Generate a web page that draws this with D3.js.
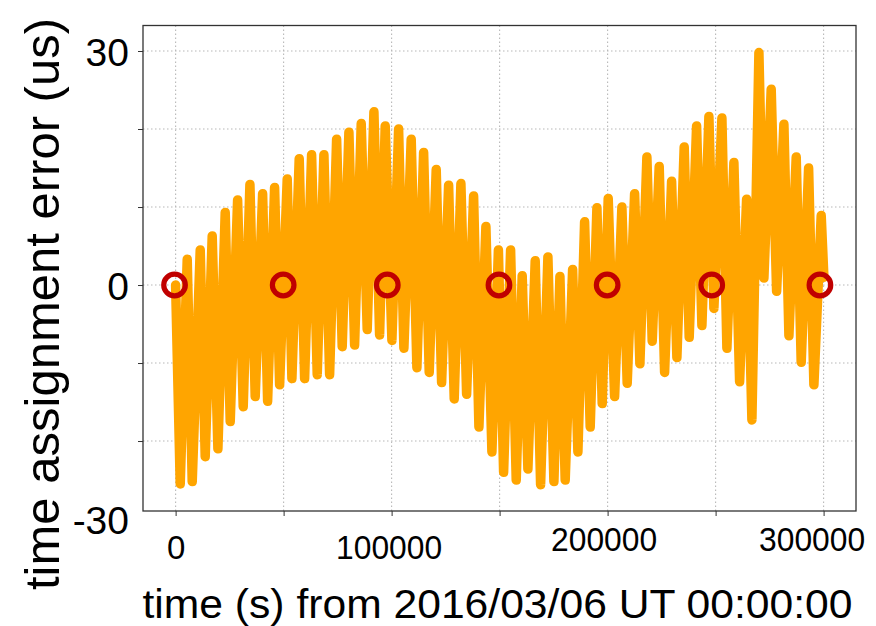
<!DOCTYPE html>
<html lang="en">
<head>
<meta charset="UTF-8">
<title>Time assignment error</title>
<script src="https://d3js.org/d3.v7.min.js"></script>
<style>
  body { margin: 0; background: #fff; }
  svg text { font-family: "Liberation Sans", Arial, sans-serif; fill: #000; }
</style>
</head>
<body>
<svg id="chart" width="876" height="626"></svg>
<script>
// seconds from 2016/03/06 00:00:00 UT, alternating troughs / peaks
const times = [0, 2130, 5370, 7690, 11390, 13700, 16940, 19580, 22960, 25280,
  28700, 31300, 34400, 36850, 40280, 42590, 45830, 48150, 51670, 53840,
  57220, 59720, 62960, 65560, 68660, 71300, 74540, 77130, 80230, 82870,
  85930, 88700, 91810, 94440, 97040, 100140, 103240, 105690, 109070, 111710,
  114820, 117410, 120650, 123150, 126390, 128980, 132080, 134720, 137960, 140420,
  143660, 146440, 149440, 151850, 155090, 157690, 160460, 163100, 166480, 168980,
  172360, 175140, 177920, 180370, 183800, 186250, 189350, 191940, 195050, 197500,
  200280, 203240, 206620, 209070, 212500, 214950, 218190, 220650, 223890, 226390,
  229630, 232080, 235460, 237780, 241200, 243660, 246900, 249210, 252920, 255230,
  258470, 261110, 264350, 266810, 270050, 272360, 275740, 278240, 281620, 283940,
  287320, 289630, 293060, 295510, 298890, 300140];

// time assignment error (us)
const errors = [0.0, -25.5, 3.3, -25.2, 4.5, -22.0, 6.3, -21.0, 9.3, -17.5,
  10.9, -15.6, 12.9, -14.3, 11.7, -14.9, 12.5, -12.8, 13.6, -12.0,
  16.2, -12.0, 16.7, -11.5, 16.7, -11.5, 18.7, -7.9, 19.6, -7.7,
  20.7, -5.7, 22.2, -6.4, 20.4, -7.1, 20.0, -8.1, 18.7, -10.6,
  17.0, -11.2, 14.8, -12.5, 12.8, -14.6, 13.0, -14.0, 11.4, -18.2,
  7.5, -21.4, 4.5, -24.0, 4.5, -25.0, 1.2, -23.6, 3.1, -25.6,
  3.6, -25.2, 1.1, -25.0, 2.0, -21.4, 8.1, -18.2, 9.9, -15.2,
  11.1, -14.3, 10.0, -12.6, 11.7, -10.1, 16.4, -7.2, 15.2, -11.2,
  13.3, -9.3, 17.7, -6.7, 20.4, -5.2, 21.6, -3.0, 21.4, -8.1,
  15.7, -12.4, 11.0, -17.3, 29.8, 0.9, 25.1, -0.8, 20.6, -6.5,
  16.4, -9.9, 15.0, -12.8, 8.9, 1.0];

// reference markers
const markerTimes = [-500, 49800, 98000, 149700, 199800, 248200, 298300];
const markerValues = [0, 0, 0, 0, 0, 0, 0];

const xTickValues = [0, 50000, 100000, 150000, 200000, 250000, 300000];
const xLabelValues = [0, 100000, 200000, 300000];
const yTickValues = [-20, -10, 0, 10, 20, 30];
const yLabelValues = [-30, 0, 30];

const xTitle = "time (s) from 2016/03/06 UT 00:00:00";
const yTitle = "time assignment error (us)";

const svg = d3.select("#chart");
const plot = { left: 143, right: 856, top: 25.5, bottom: 511 };

const x = d3.scaleLinear().domain([-15100, 315000]).range([plot.left, plot.right]);
const y = d3.scaleLinear().domain([-28.97, 33.27]).range([plot.bottom, plot.top]);

// grid
const grid = svg.append("g")
  .attr("stroke", "#b8b8b8")
  .attr("stroke-width", 1.1)
  .attr("stroke-dasharray", "1.5,2.5");
grid.selectAll(".vg").data(xTickValues).enter().append("line")
  .attr("x1", d => x(d)).attr("x2", d => x(d))
  .attr("y1", plot.top).attr("y2", plot.bottom);
grid.selectAll(".hg").data(yTickValues).enter().append("line")
  .attr("y1", d => y(d)).attr("y2", d => y(d))
  .attr("x1", plot.left).attr("x2", plot.right);

// the series: thick zigzag line
const data = times.map((t, i) => ({ t: t, v: errors[i] }));
const line = d3.line().x(d => x(d.t)).y(d => y(d.v));

svg.append("path")
  .datum(data)
  .attr("fill", "none")
  .attr("stroke", "#ffa500")
  .attr("stroke-width", 9.5)
  .attr("stroke-linejoin", "round")
  .attr("stroke-linecap", "round")
  .attr("d", line);

// red open circles
svg.selectAll(".marker")
  .data(markerTimes.map((t, i) => ({ t: t, v: markerValues[i] })))
  .enter().append("circle")
  .attr("cx", d => x(d.t))
  .attr("cy", d => y(d.v))
  .attr("r", 10.8)
  .attr("fill", "none")
  .attr("stroke", "#c00000")
  .attr("stroke-width", 5.2);

// frame
svg.append("rect")
  .attr("x", plot.left).attr("y", plot.top)
  .attr("width", plot.right - plot.left)
  .attr("height", plot.bottom - plot.top)
  .attr("fill", "none")
  .attr("stroke", "#333")
  .attr("stroke-width", 1.3);

// axis ticks
svg.append("g")
  .attr("transform", `translate(0,${plot.bottom})`)
  .call(d3.axisBottom(x).tickValues(xTickValues).tickSize(5).tickFormat(""))
  .call(g => g.select(".domain").remove())
  .call(g => g.selectAll("line").attr("stroke", "#333"));

svg.append("g")
  .attr("transform", `translate(${plot.left},0)`)
  .call(d3.axisLeft(y).tickValues(yTickValues).tickSize(5).tickFormat(""))
  .call(g => g.select(".domain").remove())
  .call(g => g.selectAll("line").attr("stroke", "#333"));

// tick labels
const xLabelShift = { 0: 8, 100000: 8, 200000: 0, 300000: 0 };
const xLabelDx = { 0: 0, 100000: -3, 200000: -4, 300000: -12 };
svg.append("g")
  .attr("transform", `translate(0,${plot.bottom})`)
  .call(d3.axisBottom(x).tickValues(xLabelValues).tickSize(0).tickPadding(0).tickFormat(d => String(d)))
  .call(g => g.select(".domain").remove())
  .call(g => g.selectAll("text")
    .attr("font-size", 33)
    .attr("y", d => 40 + xLabelShift[d])
    .attr("dy", 0)
    .attr("dx", d => xLabelDx[d])
    .attr("textLength", d => String(d).length > 1 ? 106 : null)
    .attr("lengthAdjust", "spacingAndGlyphs"));

svg.append("g")
  .attr("transform", `translate(${plot.left - 14},0)`)
  .call(d3.axisLeft(y).tickValues(yLabelValues).tickSize(0).tickPadding(0).tickFormat(d => String(d)))
  .call(g => g.select(".domain").remove())
  .call(g => g.selectAll("text")
    .attr("font-size", 39)
    .attr("dy", "0.36em"));

// axis titles
svg.append("text")
  .attr("x", (plot.left + plot.right) / 2 - 2)
  .attr("y", 618)
  .attr("text-anchor", "middle")
  .attr("font-size", 40)
  .attr("textLength", 710)
  .attr("lengthAdjust", "spacingAndGlyphs")
  .text(xTitle);

svg.append("text")
  .attr("transform", "translate(59,304) rotate(-90)")
  .attr("text-anchor", "middle")
  .attr("font-size", 49)
  .attr("textLength", 572)
  .attr("lengthAdjust", "spacingAndGlyphs")
  .text(yTitle);
</script>
</body>
</html>
